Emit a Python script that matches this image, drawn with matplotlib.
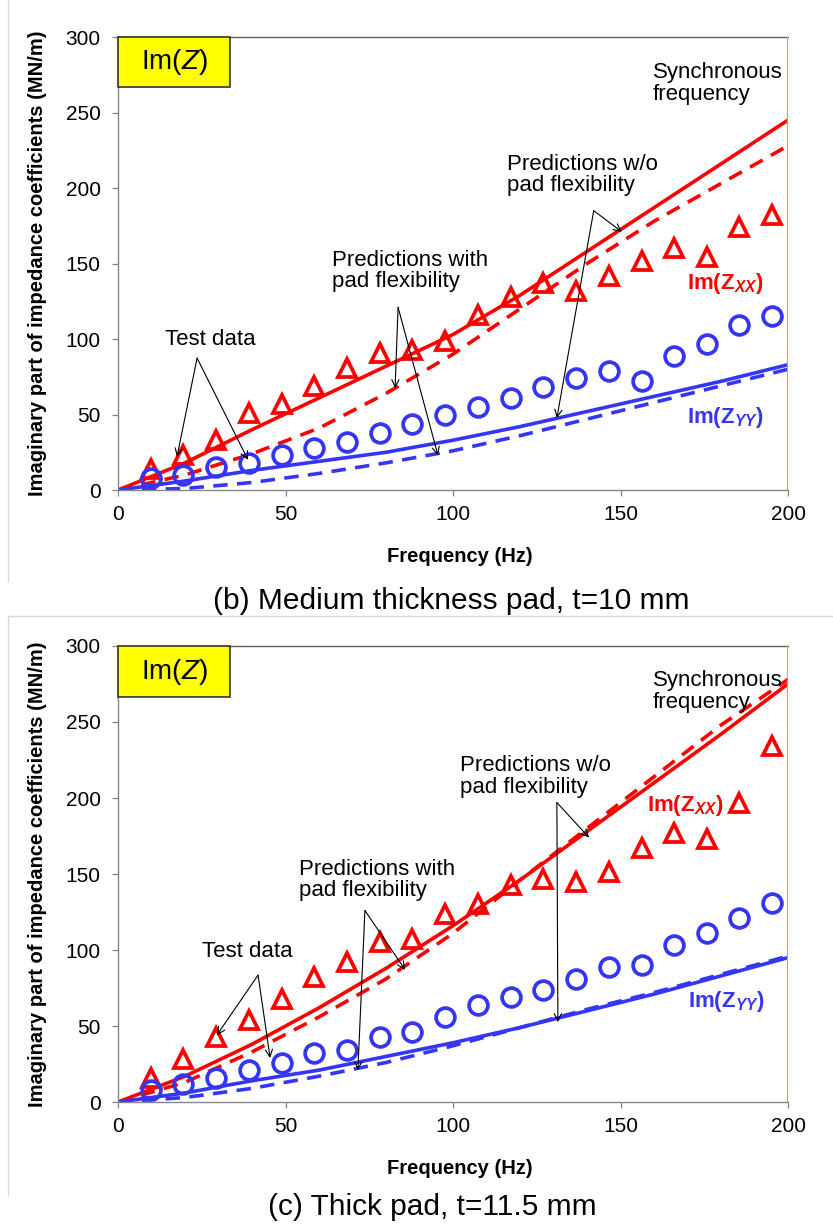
import matplotlib
matplotlib.use('Agg')
import matplotlib.pyplot as plt
from matplotlib.patches import Rectangle
from matplotlib.lines import Line2D

plt.rcParams['font.family'] = ['Liberation Sans', 'DejaVu Sans']
plt.rcParams['mathtext.fontset'] = 'custom'
plt.rcParams['mathtext.it'] = 'Liberation Sans:italic:bold'
plt.rcParams['mathtext.rm'] = 'Liberation Sans:bold'
plt.rcParams['mathtext.sf'] = 'Liberation Sans:italic'

# test frequencies (Hz)
freq_test = [9.8, 19.5, 29.3, 39.1, 48.8, 58.6, 68.4, 78.1, 87.9, 97.7,
             107.4, 117.2, 127.0, 136.7, 146.5, 156.3, 166.0, 175.8, 185.5, 195.3]
# prediction frequencies (Hz)
freq_pred = [0, 20, 40, 60, 80, 100, 120, 140, 160, 180, 200]

# (b) medium thickness pad, t=10 mm
b_test_xx = [14, 23, 33, 51, 57, 69, 81, 91, 93, 99, 116, 128, 137, 132, 142, 152, 160, 154, 174, 182]
b_test_yy = [8, 10, 15, 18, 23, 28, 32, 38, 44, 50, 55, 61, 68, 74, 79, 72, 89, 97, 109, 115]
b_rigid_xx = [0, 18, 40, 61, 82, 103, 129, 158, 187, 216, 245]
b_flex_xx = [0, 10, 24, 41, 64, 90, 120, 150, 178, 203, 228]
b_rigid_yy = [0, 6, 13, 19, 25, 33, 42, 52, 62, 72, 83]
b_flex_yy = [0, 1, 5, 11, 18, 26, 36, 47, 58, 69, 80]

# (c) thick pad, t=11.5 mm
c_test_xx = [16, 28, 43, 54, 68, 82, 92, 105, 107, 124, 130, 143, 147, 145, 151, 167, 177, 173, 197, 234]
c_test_yy = [8, 12, 16, 21, 26, 32, 34, 43, 46, 56, 64, 69, 74, 81, 89, 90, 103, 111, 121, 131]
c_rigid_xx = [0, 17, 38, 62, 88, 116, 146, 178, 210, 242, 275]
c_flex_xx = [0, 13, 33, 56, 81, 111, 146, 180, 214, 248, 278]
c_rigid_yy = [0, 6, 14, 21, 30, 39, 49, 60, 71, 83, 95]
c_flex_yy = [0, 3, 9, 17, 26, 37, 49, 61, 72, 84, 96]

RED = '#FF0000'
BLUE = '#3535F5'
GREY = '#868686'
ORANGE = '#F79646'


def arrows(ax, apex, tips):
    for tip in tips:
        ax.annotate('', xy=tip, xytext=apex,
                    arrowprops=dict(arrowstyle='->', lw=0.8, color='black',
                                    shrinkA=0, shrinkB=0, mutation_scale=13))


def draw_panel(ax, test_xx, test_yy, rigid_xx, flex_xx, rigid_yy, flex_yy, notes):
    ax.plot(freq_pred, rigid_xx, color=RED, lw=2.6)
    ax.plot(freq_pred, flex_xx, color=RED, lw=2.6, dashes=(4, 2.6))
    ax.plot(freq_pred, rigid_yy, color=BLUE, lw=2.6)
    ax.plot(freq_pred, flex_yy, color=BLUE, lw=2.6, dashes=(4, 2.6))
    ax.plot(freq_test, test_xx, ls='none', marker='^', ms=13.5, mfc='none',
            mec=RED, mew=2.7)
    ax.plot(freq_test, test_yy, ls='none', marker='o', ms=13.5, mfc='none',
            mec=BLUE, mew=2.7)
    ax.axvline(200, color=ORANGE, lw=1.6, zorder=5)

    ax.set_xlim(0, 200)
    ax.set_ylim(0, 300)
    ax.set_xticks([0, 50, 100, 150, 200])
    ax.set_yticks([0, 50, 100, 150, 200, 250, 300])
    ax.tick_params(direction='out', length=4.5, width=0.9, color=GREY,
                   labelsize=15, labelcolor='black')
    ax.tick_params(axis='y', pad=8)
    ax.tick_params(axis='x', pad=6)
    for side in ['left', 'bottom', 'top']:
        ax.spines[side].set_color(GREY)
        ax.spines[side].set_linewidth(1.0)
    ax.spines['top'].set_color('#606060')
    ax.spines['right'].set_visible(False)

    ax.text(0.51, -0.146, 'Frequency (Hz)', transform=ax.transAxes,
            ha='center', va='center', fontsize=14.5, fontweight='bold')
    ax.text(-0.12, 0.5, 'Imaginary part of impedance coefficients (MN/m)',
            transform=ax.transAxes, rotation=90, ha='center', va='center',
            fontsize=14.5, fontweight='bold')

    ax.add_patch(Rectangle((0, 0.889), 0.167, 0.111, transform=ax.transAxes,
                           facecolor='#FFFF00', edgecolor='#333333', lw=1.2,
                           clip_on=False, zorder=6))
    ax.text(0.0835, 0.944, r'Im($\mathsf{Z}$)', transform=ax.transAxes,
            ha='center', va='center', fontsize=20, zorder=7)

    for label, (x, y), apex, tips in notes['arrows']:
        ax.text(x, y, label, ha='left', va='center', fontsize=16,
                linespacing=1.05)
        arrows(ax, apex, tips)
    sx, sy = notes['sync']
    ax.text(sx, sy, 'Synchronous\nfrequency', ha='left', va='center',
            fontsize=16, linespacing=1.05)
    xx_pos, yy_pos = notes['labels']
    ax.text(xx_pos[0], xx_pos[1], r'Im(Z$_{\mathit{XX}}$)', color=RED,
            fontsize=16, fontweight='bold', ha='left', va='center')
    ax.text(yy_pos[0], yy_pos[1], r'Im(Z$_{\mathit{YY}}$)', color=BLUE,
            fontsize=16, fontweight='bold', ha='left', va='center')


fig = plt.figure(figsize=(8.33, 12.26), dpi=100)

# light chart frames
fig.add_artist(Line2D([0.0096, 0.0096], [1.0, 0.526], color='#d9d9d9', lw=1))
fig.add_artist(Line2D([0.0096, 0.0096, 1.0], [0.025, 0.4976, 0.4976],
                      color='#d9d9d9', lw=1))

ax1 = fig.add_axes([0.1417, 0.6003, 0.8043, 0.3695])
draw_panel(ax1, b_test_xx, b_test_yy, b_rigid_xx, b_flex_xx, b_rigid_yy, b_flex_yy, {
    'arrows': [
        ('Test data', (14.0, 100), (23.6, 87.4), [(17.6, 22), (38.8, 20)]),
        ('Predictions with\npad flexibility', (63.9, 145), (83.6, 121),
         [(82.7, 67.5), (95.5, 23)]),
        ('Predictions w/o\npad flexibility', (116.1, 208.6), (142, 185),
         [(150.4, 171), (131, 47.7)]),
    ],
    'sync': (159.7, 269),
    'labels': [(169.9, 137), (169.9, 48)],
})

ax2 = fig.add_axes([0.1417, 0.1011, 0.8043, 0.372])
draw_panel(ax2, c_test_xx, c_test_yy, c_rigid_xx, c_flex_xx, c_rigid_yy, c_flex_yy, {
    'arrows': [
        ('Test data', (25.1, 99.3), (41.8, 83.5), [(29.5, 44), (45.4, 29)]),
        ('Predictions with\npad flexibility', (54.0, 146), (73.7, 126),
         [(85.7, 87), (71.6, 21)]),
        ('Predictions w/o\npad flexibility', (102.1, 214), (131, 197),
         [(140.6, 174), (131.3, 52.6)]),
    ],
    'sync': (159.7, 270),
    'labels': [(157.9, 195), (170.1, 66)],
})

fig.text(451 / 833, 1 - 601 / 1226, '(b) Medium thickness pad, t=10 mm',
         ha='center', va='center', fontsize=21.5)
fig.text(432 / 833, 1 - 1207 / 1226, '(c) Thick pad, t=11.5 mm',
         ha='center', va='center', fontsize=21.5)

fig.savefig('out.png', dpi=100)
